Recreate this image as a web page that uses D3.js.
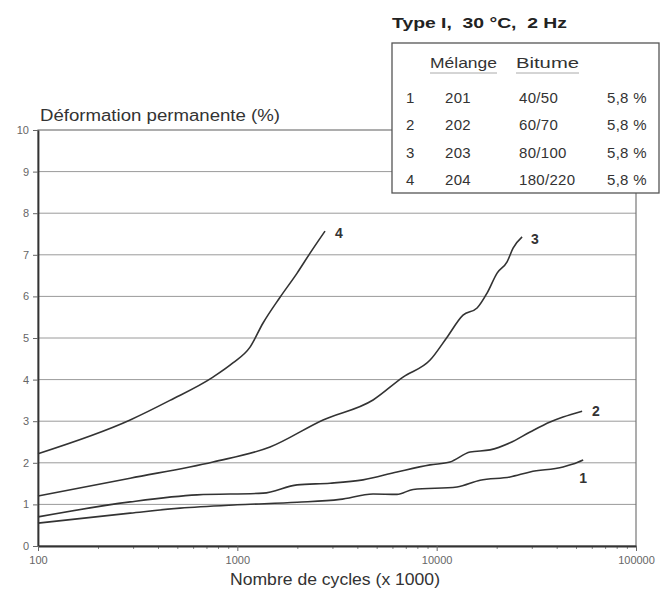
<!DOCTYPE html>
<html>
<head>
<meta charset="utf-8">
<script src="https://cdn.jsdelivr.net/npm/d3@7"></script>
<style>
body { margin: 0; background: #fff; }
text { font-family: "Liberation Sans", Arial, sans-serif; white-space: pre; }
</style>
</head>
<body>
<svg id="plot1"></svg>
<script>
// readings (cycles x 1000, deformation %)
var cycles1 = [100, 290, 516, 999, 1995, 3273, 4797, 6324, 7620, 12650, 16520, 23340, 29420, 43050, 48300, 54300];
var deform1 = [0.55, 0.79, 0.91, 0.99, 1.05, 1.12, 1.25, 1.24, 1.36, 1.42, 1.58, 1.66, 1.78, 1.90, 1.97, 2.07];
var cycles2 = [100, 290, 628, 1346, 1995, 2918, 4272, 6324, 9270, 11670, 14720, 18530, 23340, 29420, 37070, 43050, 53660];
var deform2 = [0.70, 1.06, 1.23, 1.27, 1.47, 1.51, 1.59, 1.78, 1.95, 2.02, 2.26, 2.31, 2.48, 2.74, 2.98, 3.10, 3.24];
var cycles3 = [100, 290, 755, 1459, 2692, 4797, 6780, 9270, 11280, 13560, 15950, 17900, 20100, 22550, 24170, 26830];
var deform3 = [1.20, 1.63, 2.02, 2.38, 3.03, 3.51, 4.06, 4.47, 5.02, 5.55, 5.72, 6.08, 6.56, 6.83, 7.16, 7.43];
var cycles4 = [100, 290, 459, 755, 950, 1158, 1346, 1638, 1995, 2317, 2755];
var deform4 = [2.22, 3.03, 3.50, 4.06, 4.40, 4.78, 5.36, 5.98, 6.56, 7.04, 7.57];
var seriesNames = ['1', '2', '3', '4'];
var xTicks = [100, 1000, 10000, 100000];
var yTicks = [0, 1, 2, 3, 4, 5, 6, 7, 8, 9, 10];
var legendRows = [
    ['1', '201', '40/50', '5,8 %'],
    ['2', '202', '60/70', '5,8 %'],
    ['3', '203', '80/100', '5,8 %'],
    ['4', '204', '180/220', '5,8 %']
];

var w = 663, h = 590;
var mLeft = 38, mRight = 636, mTop = 130, mBottom = 546;

var xs = d3.scaleLog().domain([100, 100000]).range([mLeft, mRight]);
var ys = d3.scaleLinear().domain([0, 10]).range([mBottom, mTop]);

var svg = d3.select('#plot1').attr('width', w).attr('height', h);

// grid
svg.append('g').selectAll('line').data(yTicks.slice(1, 10)).enter().append('line')
    .attr('x1', mLeft).attr('x2', mRight)
    .attr('y1', function(d) { return ys(d); }).attr('y2', function(d) { return ys(d); })
    .attr('stroke', '#9a9a9a').attr('stroke-width', 1);

// frame
svg.append('rect').attr('x', mLeft).attr('y', mTop).attr('width', mRight - mLeft).attr('height', mBottom - mTop)
    .attr('fill', 'none').attr('stroke', '#777').attr('stroke-width', 1.2);

var yAxis = d3.axisLeft(ys).tickValues(yTicks).tickSize(5).tickSizeOuter(0);
svg.append('g').attr('transform', 'translate(' + mLeft + ',0)').call(yAxis)
    .call(function(g) {
        g.select('.domain').attr('stroke', '#333').attr('stroke-width', 1.8);
        g.selectAll('.tick line').attr('stroke', '#666');
        g.selectAll('.tick text').attr('fill', '#666').style('font-size', '11px').attr('x', -9);
    });

var minor = [];
[100, 1000, 10000].forEach(function(b) { for (var k = 2; k < 10; k++) minor.push(b * k); });
svg.append('g').attr('transform', 'translate(0,' + mBottom + ')')
    .call(d3.axisBottom(xs).tickValues(minor).tickSize(3).tickFormat(''))
    .call(function(g) { g.select('.domain').remove(); g.selectAll('.tick line').attr('stroke', '#888'); });
var xAxis = d3.axisBottom(xs).tickValues(xTicks).tickSize(5).tickSizeOuter(0).tickFormat(d3.format('d'));
svg.append('g').attr('transform', 'translate(0,' + mBottom + ')').call(xAxis)
    .call(function(g) {
        g.select('.domain').attr('stroke', '#333').attr('stroke-width', 1.8);
        g.selectAll('.tick line').attr('stroke', '#666');
        g.selectAll('.tick text').attr('fill', '#666').style('font-size', '11px').attr('y', 10);
    });

// curves
var line = d3.line().curve(d3.curveMonotoneX)
    .x(function(d) { return xs(d[0]); }).y(function(d) { return ys(d[1]); });
var series = [[cycles1, deform1], [cycles2, deform2], [cycles3, deform3], [cycles4, deform4]];
series.forEach(function(s) {
    svg.append('path').datum(d3.zip(s[0], s[1]))
        .attr('d', line).attr('fill', 'none').attr('stroke', '#333').attr('stroke-width', 1.6);
});

// curve labels
var labOff = [[-4, 18], [10, 0], [9, 2], [10, 2]];
series.forEach(function(s, i) {
    var n = s[0].length - 1;
    svg.append('text').attr('x', xs(s[0][n]) + labOff[i][0]).attr('y', ys(s[1][n]) + labOff[i][1] + 5)
        .attr('fill', '#333').style('font-size', '14px').style('font-weight', 'bold').text(seriesNames[i]);
});

// axis titles
svg.append('text').attr('x', mLeft + 2).attr('y', 121).attr('fill', '#333').style('font-size', '16px')
    .attr('textLength', 240).attr('lengthAdjust', 'spacingAndGlyphs')
    .text('Déformation permanente (%)');
svg.append('text').attr('x', 230).attr('y', 585).attr('fill', '#333')
    .style('font-size', '17px').attr('textLength', 210).attr('lengthAdjust', 'spacingAndGlyphs')
    .text('Nombre de cycles (x 1000)');

// title and legend box
svg.append('text').attr('x', 392).attr('y', 28).attr('fill', '#222').style('font-size', '15px')
    .style('font-weight', 'bold').attr('textLength', 175).attr('lengthAdjust', 'spacingAndGlyphs')
    .text('Type I,  30 °C,  2 Hz');
svg.append('rect').attr('x', 392).attr('y', 43).attr('width', 267).attr('height', 150)
    .attr('fill', '#fff').attr('stroke', '#555').attr('stroke-width', 1.3);
var lg = svg.append('g').attr('fill', '#333').style('font-size', '15px');
lg.append('text').attr('x', 430).attr('y', 68).attr('textLength', 67).attr('lengthAdjust', 'spacingAndGlyphs').text('Mélange');
lg.append('text').attr('x', 516).attr('y', 68).attr('textLength', 63).attr('lengthAdjust', 'spacingAndGlyphs').text('Bitume');
lg.append('line').attr('x1', 430).attr('x2', 497).attr('y1', 73).attr('y2', 73).attr('stroke', '#aaa');
lg.append('line').attr('x1', 516).attr('x2', 579).attr('y1', 73).attr('y2', 73).attr('stroke', '#aaa');
var colX = [406, 445, 519, 607];
legendRows.forEach(function(r, i) {
    r.forEach(function(t, j) {
        lg.append('text').attr('x', colX[j]).attr('y', 103 + i * 27.3).style('letter-spacing', '0.3px').text(t);
    });
});
</script>
</body>
</html>
